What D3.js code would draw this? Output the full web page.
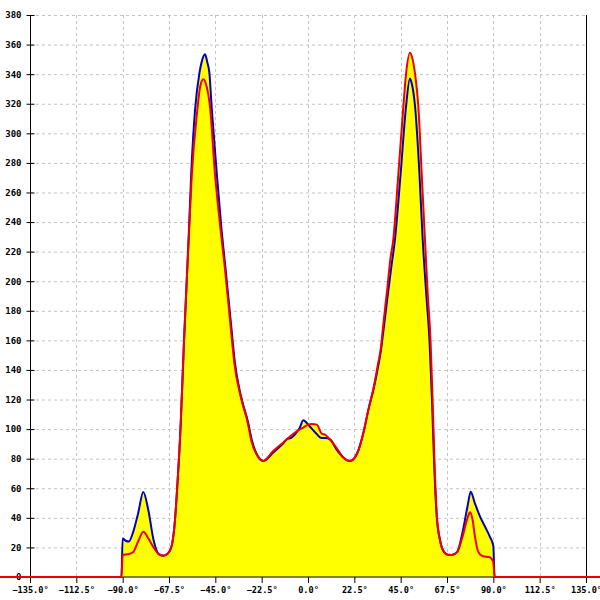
<!DOCTYPE html>
<html>
<head>
<meta charset="utf-8">
<script src="https://cdn.jsdelivr.net/npm/d3@7"></script>
<style>
  html, body { margin: 0; padding: 0; background: #fff; }
  svg { display: block; }
  text { font-family: "DejaVu Sans Mono", monospace; font-size: 9px; font-weight: bold; fill: #000; }
</style>
</head>
<body>
<svg id="chart" width="600" height="600"></svg>
<script>
// ---- data ----
const xTicks = [-135, -112.5, -90, -67.5, -45, -22.5, 0, 22.5, 45, 67.5, 90, 112.5, 135];
const yTicks = [0, 20, 40, 60, 80, 100, 120, 140, 160, 180, 200, 220, 240, 260, 280, 300, 320, 340, 360, 380];

const blueAngles = [-150, -90.6, -90, -88.5, -87, -85, -82.5, -80, -77.5, -75, -72.5, -70.3, -68, -66.2, -64.6, -63.5, -62.5, -61.8, -60.2, -58.9, -57.8, -56.7, -54.9, -52.7, -51.3, -50, -48.9, -47.9, -46.8, -44.3, -42, -40.3, -37.1, -35.5, -32.5, -29, -27.3, -24.5, -21.7, -17, -12, -10, -8.7, -6, -4, -2.3, -0.5, 1, 4, 6.6, 8.5, 10.7, 14, 17, 20.4, 24, 27, 29.3, 32, 34, 35.4, 36.5, 38.5, 40.5, 42.2, 45, 47.6, 49.5, 50.5, 52, 54.1, 55.7, 57.5, 59, 60.2, 61.3, 62.5, 64.1, 66, 68, 69.8, 72.5, 75, 77.5, 79, 81, 83.5, 86, 88.4, 90, 90.6, 150];
const blueValues = [0, 0, 26, 24.5, 24, 30, 43, 57.5, 45, 25, 15.5, 14.4, 16, 21, 38.5, 61, 84, 104, 160, 200, 235, 273, 315, 341, 350, 353.5, 348, 341, 318, 273, 235, 212, 167, 145, 122, 104, 92.6, 82, 78.5, 84, 90.4, 93.5, 93.8, 97, 101, 106, 104, 101.6, 97, 94, 94, 93, 86, 81, 78.4, 84, 98, 113, 128, 142, 153, 165, 188, 210, 228, 273, 318, 337, 333, 318, 273, 228, 190, 160, 120, 75, 41, 25, 17, 15, 14.9, 17, 30, 48, 57.7, 50, 41, 34, 27, 21, 0, 0];

const redAngles = [-150, -90.6, -90, -87, -85, -82.5, -80, -77.5, -75, -72.5, -70.3, -68, -66.2, -64.6, -63.5, -62.5, -61.8, -60.2, -58.9, -57.8, -56.5, -53.8, -52.3, -50.8, -49.3, -47.6, -45.2, -41.9, -40.6, -37.4, -35.8, -32.7, -29.2, -27.5, -24.5, -21.7, -17, -12, -8.7, -5, -2.3, 0, 2, 4.3, 6.6, 8.5, 10.7, 14, 17, 20.4, 24, 27, 29.3, 32, 34, 35.4, 36.5, 38.5, 40, 41.4, 43.9, 46.3, 47.6, 49.5, 50.8, 52, 53.6, 55.2, 56.8, 58.2, 59.5, 60.5, 61.5, 62.6, 64.1, 66, 68, 69.8, 72.5, 75, 77.5, 78.7, 80, 81, 82.7, 85, 88, 89.5, 90, 90.6, 150];
const redValues = [0, 0, 15, 15.5, 16.7, 24, 30.6, 26, 20, 15.5, 14.4, 16, 21, 38.5, 61, 84, 104, 160, 200, 232, 270, 315, 332, 336.5, 332, 318, 273, 228, 212, 167, 145, 122, 104, 92, 82, 78.5, 85, 91, 95, 99, 101, 103, 103.5, 103, 97, 96, 93, 87, 81, 78.4, 84, 98, 113, 129, 144, 155, 170, 195, 215, 228, 273, 318, 340, 354.5, 350, 340, 318, 273, 228, 190, 160, 120, 75, 41, 25, 17, 15, 14.9, 17, 27, 40, 43.7, 38, 28, 17, 14, 13.5, 11.5, 10, 0, 0];

// ---- chart ----
const svg = d3.select("#chart");
const x = d3.scaleLinear().domain([-135, 135]).range([30, 586]);
const y = d3.scaleLinear().domain([0, 380]).range([577, 15]);

const blue = blueAngles.map((a, i) => [a, blueValues[i]]);
const red = redAngles.map((a, i) => [a, redValues[i]]);

// grid
const grid = svg.append("g");
grid.selectAll("line.h").data(yTicks.filter(v => v > 0)).join("line")
  .attr("x1", x(-135)).attr("x2", x(135))
  .attr("y1", d => y(d) + 0.5).attr("y2", d => y(d) + 0.5)
  .attr("stroke", "#c4c4c4").attr("stroke-dasharray", "3,3");
grid.selectAll("line.v").data(xTicks.filter(v => v > -135 && v < 135)).join("line")
  .attr("y1", y(380)).attr("y2", y(0))
  .attr("x1", d => Math.round(x(d)) + 0.5).attr("x2", d => Math.round(x(d)) + 0.5)
  .attr("stroke", "#c4c4c4").attr("stroke-dasharray", "3,3");

// areas
const area = d3.area().x(d => x(d[0])).y0(y(0)).y1(d => y(d[1])).curve(d3.curveMonotoneX);
svg.append("path").datum(blue).attr("d", area).attr("fill", "#ffff00");
svg.append("path").datum(red).attr("d", area).attr("fill", "#ffff00");

// axes
const yAxis = d3.axisLeft(y).tickValues(yTicks).tickSize(4).tickPadding(5).tickFormat(d3.format("d"));
const gy = svg.append("g").attr("transform", `translate(${x(-135) + 0.5},0)`).call(yAxis);
gy.select(".domain").remove();
gy.selectAll(".tick line").attr("x2", -4).attr("x1", 4).attr("stroke", "#000");
gy.selectAll(".tick text").attr("x", -9);
svg.append("line").attr("x1", x(-135) + 0.5).attr("x2", x(-135) + 0.5).attr("y1", y(380)).attr("y2", y(0))
  .attr("stroke", "#000");
svg.append("line").attr("x1", x(135) + 0.5).attr("x2", x(135) + 0.5).attr("y1", y(380)).attr("y2", y(0))
  .attr("stroke", "#000");

const xAxis = d3.axisBottom(x).tickValues(xTicks).tickSize(6).tickPadding(4).tickFormat(d => d3.format(".1f")(d) + "°");
const gx = svg.append("g").attr("transform", `translate(0,${y(0)})`).call(xAxis);
gx.select(".domain").remove();
gx.selectAll(".tick line").attr("stroke", "#000");
gx.selectAll(".tick text").style("text-anchor", "middle");
svg.append("line").attr("x1", x(-135)).attr("x2", x(135)).attr("y1", y(0)).attr("y2", y(0)).attr("stroke", "#000");

svg.selectAll(".tick text").style("font-family", "'DejaVu Sans Mono', monospace").style("font-size", "9px").style("font-weight", "bold");
gx.selectAll(".tick text").style("font-size", "8.6px");

// lines
const line = d3.line().x(d => x(d[0])).y(d => y(d[1])).curve(d3.curveMonotoneX);
svg.append("path").datum(blue).attr("d", line).attr("fill", "none").attr("stroke", "#0000c8").attr("stroke-width", 2);
svg.append("path").datum(red).attr("d", line).attr("fill", "none").attr("stroke", "#ee0000").attr("stroke-width", 2);
</script>
</body>
</html>
